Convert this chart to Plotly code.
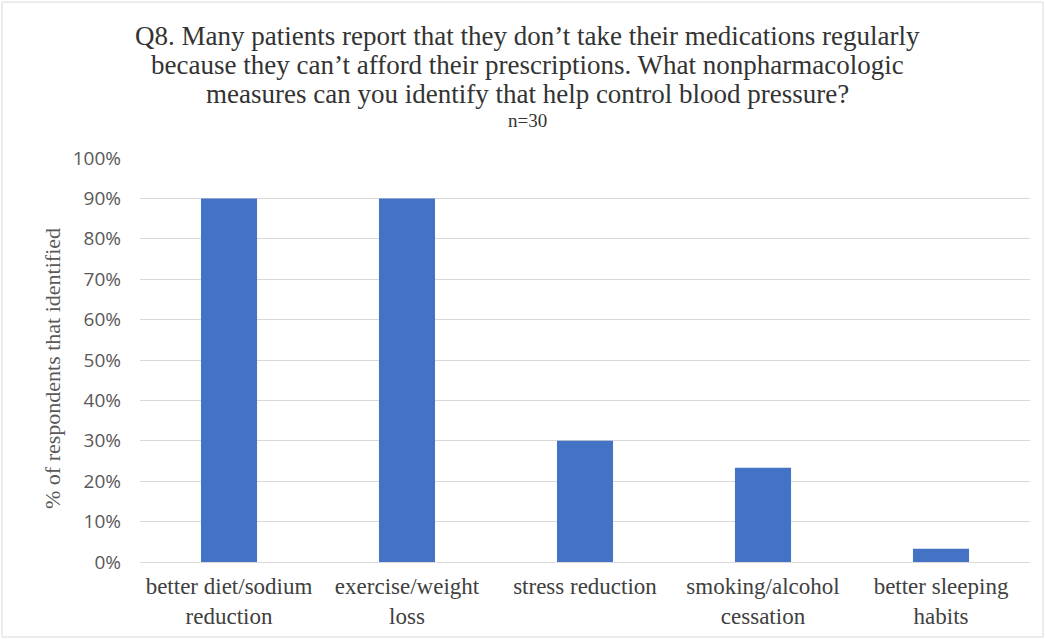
import plotly.graph_objects as go

categories = [
    "better diet/sodium<br>reduction",
    "exercise/weight<br>loss",
    "stress reduction",
    "smoking/alcohol<br>cessation",
    "better sleeping<br>habits",
]
share_identified = [0.90, 0.90, 0.30, 0.233, 0.033]
y_ticks = [i / 10 for i in range(11)]
y_tick_labels = [f"{i * 10}%" for i in range(11)]

title_lines = [
    "Q8. Many patients report that they don’t take their medications regularly",
    "because they can’t afford their prescriptions. What nonpharmacologic",
    "measures can you identify that help control blood pressure?",
]
subtitle = "n=30"

SERIF = "Times New Roman"

fig = go.Figure(
    go.Bar(
        x=categories,
        y=share_identified,
        marker=dict(color="#4472C4", line=dict(width=0)),
        width=0.315,
    )
)

# Title lines placed individually for tight line spacing
W, H = 1045, 639
annotations = []
for i, line in enumerate(title_lines):
    annotations.append(
        dict(
            text=line,
            xref="paper",
            yref="paper",
            x=(527 - 140) / 890,
            y=(639 - 77 - (36 + 29 * i)) / 404,
            xanchor="center",
            yanchor="middle",
            showarrow=False,
            font=dict(family=SERIF, size=27, color="#333333"),
        )
    )
annotations.append(
    dict(
        text=subtitle,
        xref="paper",
        yref="paper",
        x=(527 - 140) / 890,
        y=(639 - 77 - 121) / 404,
        xanchor="center",
        yanchor="middle",
        showarrow=False,
        font=dict(family=SERIF, size=19, color="#333333"),
    )
)
# Rotated y-axis caption
annotations.append(
    dict(
        text="% of respondents that identified",
        xref="paper",
        yref="paper",
        x=-(140 - 52) / 890,
        y=(639 - 77 - 369) / 404,
        xanchor="center",
        yanchor="middle",
        textangle=-90,
        showarrow=False,
        font=dict(family=SERIF, size=22, color="#595959"),
    )
)

fig.update_layout(
    width=W,
    height=H,
    paper_bgcolor="white",
    plot_bgcolor="white",
    margin=dict(l=140, r=15, t=158, b=77),
    showlegend=False,
    annotations=annotations,
    xaxis=dict(
        showgrid=False,
        showline=False,
        ticks="",
        automargin=False,
        ticklabelstandoff=8,
        tickfont=dict(family=SERIF, size=23, color="#404040"),
    ),
    yaxis=dict(
        range=[0, 1.0],
        tickvals=y_ticks,
        ticktext=y_tick_labels,
        showgrid=True,
        gridcolor="#d9d9d9",
        gridwidth=1,
        zeroline=True,
        zerolinecolor="#d9d9d9",
        zerolinewidth=1,
        ticks="",
        automargin=False,
        ticklabelstandoff=18,
        tickfont=dict(family="Open Sans", size=19, color="#595959"),
    ),
    shapes=[
        dict(
            type="rect",
            xref="paper",
            yref="paper",
            x0=-138 / 890,
            x1=1 + 13 / 890,
            y0=-75 / 404,
            y1=1 + 156 / 404,
            line=dict(color="#d9d9d9", width=1),
            fillcolor="rgba(0,0,0,0)",
        )
    ],
)

fig.write_html("out.html")
